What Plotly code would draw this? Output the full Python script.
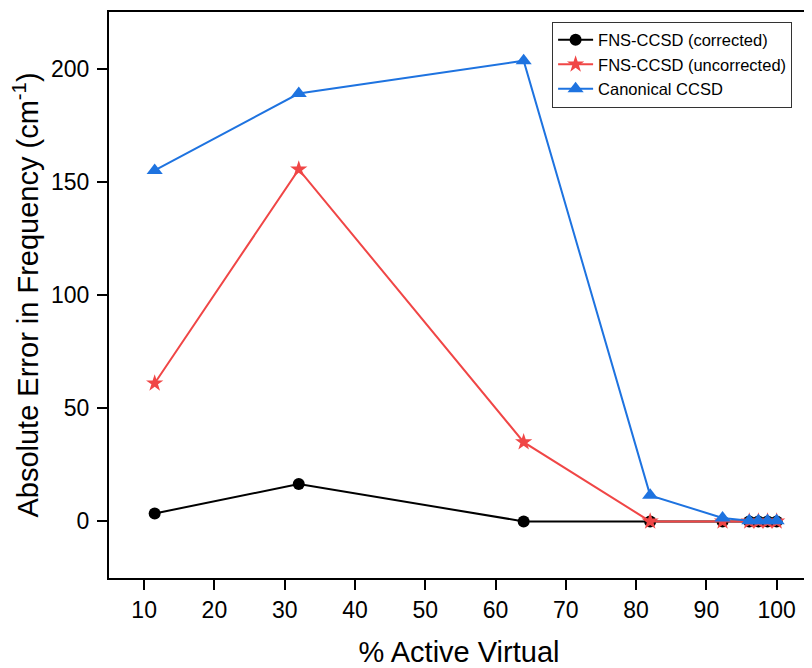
import plotly.graph_objects as go

x_vals = [11.5, 32.0, 64.0, 82.0, 92.3, 96.1, 97.4, 98.7, 100.0]
fns_corrected = [3.5, 16.5, 0.0, 0.0, 0.0, 0.0, 0.0, 0.0, 0.0]
fns_uncorrected = [61.0, 155.5, 35.0, 0.0, 0.0, 0.0, 0.0, 0.0, 0.0]
canonical = [155.0, 189.0, 203.5, 11.5, 1.5, 0.3, 0.3, 0.3, 0.3]

series_names = ["FNS-CCSD (corrected)", "FNS-CCSD (uncorrected)", "Canonical CCSD"]
x_ticks = [10, 20, 30, 40, 50, 60, 70, 80, 90, 100]
y_ticks = [0, 50, 100, 150, 200]

FONT = "Liberation Sans, Arial, sans-serif"

fig = go.Figure()
fig.add_trace(go.Scatter(x=x_vals, y=fns_corrected, name=series_names[0], mode="lines+markers",
                         line=dict(color="black", width=2),
                         marker=dict(symbol="circle", size=12, color="black")))
fig.add_trace(go.Scatter(x=x_vals, y=fns_uncorrected, name=series_names[1], mode="lines+markers",
                         line=dict(color="#f04646", width=2),
                         marker=dict(symbol="star", size=13, color="#f04646")))
fig.add_trace(go.Scatter(x=x_vals, y=canonical, name=series_names[2], mode="lines+markers",
                         line=dict(color="#1e73e0", width=2),
                         marker=dict(symbol="triangle-up", size=14, color="#1e73e0")))

# page body has an 8px default margin, so the figure is 8px smaller than the window
fig.update_layout(
    width=804, height=660,
    margin=dict(l=101, r=3, t=4, b=90, autoexpand=False),
    paper_bgcolor="white", plot_bgcolor="white",
    font=dict(family=FONT, color="black"),
    showlegend=True,
    legend=dict(x=0.633, y=0.983, xanchor="left", yanchor="top",
                bordercolor="#333333", borderwidth=1, bgcolor="white",
                font=dict(size=16.5, family=FONT), tracegroupgap=0,
                itemwidth=35),
    xaxis=dict(range=[5, 104.6], tickvals=x_ticks, ticks="outside", ticklen=10, tickwidth=2,
               tickcolor="black", showline=True, linecolor="black", linewidth=2, mirror=True,
               showgrid=False, zeroline=False, tickfont=dict(size=23, family=FONT),
               automargin=False,
               title=dict(text="% Active Virtual", font=dict(size=29, family=FONT), standoff=21)),
    yaxis=dict(range=[-25, 225], tickvals=y_ticks, ticks="outside", ticklen=10, tickwidth=2,
               tickcolor="black", showline=True, linecolor="black", linewidth=2, mirror=True,
               showgrid=False, zeroline=False, tickfont=dict(size=23, family=FONT),
               automargin=False, ticklabelstandoff=3,
               title=dict(text="Absolute Error in Frequency (cm<sup>-1</sup>)",
                          font=dict(size=29, family=FONT), standoff=8)),
)

fig.write_html("out.html")
